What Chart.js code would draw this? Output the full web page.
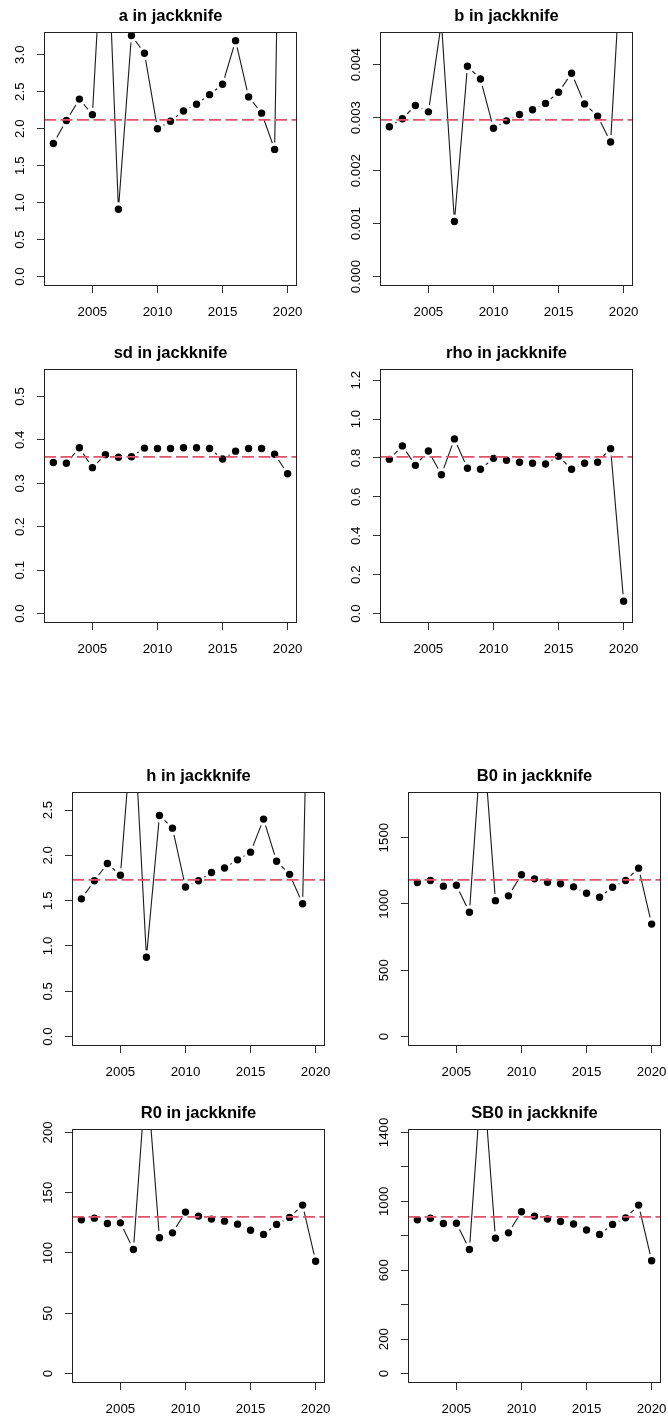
<!DOCTYPE html>
<html><head><meta charset="utf-8">
<script src="https://cdn.jsdelivr.net/npm/chart.js@4.4.1/dist/chart.umd.min.js"></script>
<style>
html,body{margin:0;padding:0;background:#fff;}
body{width:668px;height:1418px;overflow:hidden;position:relative;}
canvas{position:absolute;}
</style>
</head><body>
<script>
// ---------- data ----------
const years = [2002,2003,2004,2005,2006,2007,2008,2009,2010,2011,2012,2013,2014,2015,2016,2017,2018,2019,2020];
const xTickValues = [2005, 2010, 2015, 2020];
const xTickLabels = ['2005', '2010', '2015', '2020'];

const aValues = [1.80, 2.11, 2.40, 2.19, 5.35, 0.91, 3.26, 3.02, 2.00, 2.10, 2.24, 2.33, 2.46, 2.60, 3.19, 2.43, 2.21, 1.72, 12.0];
const aBase = 2.12;
const aTicks = [0, 0.5, 1.0, 1.5, 2.0, 2.5, 3.0];
const aTickLabels = ['0.0','0.5','1.0','1.5','2.0','2.5','3.0'];

const bValues = [0.00283, 0.00298, 0.00323, 0.00311, 0.0048, 0.00104, 0.00397, 0.00373, 0.00280, 0.00294, 0.00306, 0.00315, 0.00327, 0.00348, 0.00384, 0.00326, 0.00303, 0.00254, 0.0068];
const bBase = 0.00296;
const bTicks = [0, 0.001, 0.002, 0.003, 0.004];
const bTickLabels = ['0.000','0.001','0.002','0.003','0.004'];

const sdValues = [0.348, 0.346, 0.382, 0.336, 0.366, 0.360, 0.361, 0.381, 0.380, 0.380, 0.382, 0.382, 0.380, 0.356, 0.374, 0.380, 0.380, 0.367, 0.322];
const sdBase = 0.361;
const sdTicks = [0, 0.1, 0.2, 0.3, 0.4, 0.5];
const sdTickLabels = ['0.0','0.1','0.2','0.3','0.4','0.5'];

const rhoValues = [0.793, 0.862, 0.762, 0.836, 0.714, 0.898, 0.747, 0.742, 0.798, 0.788, 0.778, 0.773, 0.769, 0.809, 0.742, 0.773, 0.778, 0.848, 0.064];
const rhoBase = 0.806;
const rhoTicks = [0, 0.2, 0.4, 0.6, 0.8, 1.0, 1.2];
const rhoTickLabels = ['0.0','0.2','0.4','0.6','0.8','1.0','1.2'];

const hValues = [1.52, 1.72, 1.91, 1.78, 3.6, 0.875, 2.44, 2.30, 1.65, 1.72, 1.81, 1.86, 1.95, 2.035, 2.40, 1.935, 1.79, 1.466, 8.0];
const hBase = 1.73;
const hTicks = [0, 0.5, 1.0, 1.5, 2.0, 2.5];
const hTickLabels = ['0.0','0.5','1.0','1.5','2.0','2.5'];

const B0Values = [1162, 1177, 1134, 1141, 937, 2340, 1025, 1061, 1220, 1189, 1164, 1152, 1129, 1081, 1051, 1126, 1177, 1270, 848];
const B0Base = 1182;
const B0Ticks = [0, 500, 1000, 1500];
const B0TickLabels = ['0','500','1000','1500'];

const R0Values = [127.5, 128.9, 124.5, 125.0, 102.9, 252, 112.6, 116.7, 133.9, 130.6, 128.1, 126.4, 123.9, 118.9, 115.4, 123.7, 129.5, 139.7, 93.2];
const R0Base = 130.0;
const R0Ticks = [0, 50, 100, 150, 200];
const R0TickLabels = ['0','50','100','150','200'];

const SB0Values = [893, 902, 871, 873, 720, 1790, 786, 817, 939, 914, 897, 883, 868, 833, 808, 866, 904, 978, 655];
const SB0Base = 910;
const SB0Ticks = [0, 200, 400, 600, 800, 1000, 1200, 1400];
const SB0TickLabels = ['0','200','','600','','1000','','1400'];

// ---------- layout ----------
const panels = [
  {title:'a in jackknife',   values:aValues,   base:aBase,   ticks:aTicks,   labels:aTickLabels,   boxLeft:44,  boxTop:32},
  {title:'b in jackknife',   values:bValues,   base:bBase,   ticks:bTicks,   labels:bTickLabels,   boxLeft:380, boxTop:32},
  {title:'sd in jackknife',  values:sdValues,  base:sdBase,  ticks:sdTicks,  labels:sdTickLabels,  boxLeft:44,  boxTop:369},
  {title:'rho in jackknife', values:rhoValues, base:rhoBase, ticks:rhoTicks, labels:rhoTickLabels, boxLeft:380, boxTop:369},
  {title:'h in jackknife',   values:hValues,   base:hBase,   ticks:hTicks,   labels:hTickLabels,   boxLeft:72,  boxTop:792},
  {title:'B0 in jackknife',  values:B0Values,  base:B0Base,  ticks:B0Ticks,  labels:B0TickLabels,  boxLeft:408, boxTop:792},
  {title:'R0 in jackknife',  values:R0Values,  base:R0Base,  ticks:R0Ticks,  labels:R0TickLabels,  boxLeft:72,  boxTop:1129},
  {title:'SB0 in jackknife', values:SB0Values, base:SB0Base, ticks:SB0Ticks, labels:SB0TickLabels, boxLeft:408, boxTop:1129}
];

const FAMILY = "'Liberation Sans', Arial, Helvetica, sans-serif";
const TICK_SIZE = 13.3;
const TITLE_SIZE = 16.5;
const BOX_W = 253, BOX_H = 254, PAD_L = 44, PAD_T = 32, PAD_R = 22, PAD_B = 40;
const TICK_LEN = 7;
const Y_LABEL_CENTER = 24; // distance of rotated label centre from box

const measureCtx = document.createElement('canvas').getContext('2d');
measureCtx.font = TICK_SIZE + 'px ' + FAMILY;

const boxPlugin = {
  id: 'rbox',
  afterDatasetsDraw(chart) {
    const a = chart.chartArea, ctx = chart.ctx;
    ctx.save();
    ctx.strokeStyle = '#222';
    ctx.lineWidth = 1;
    ctx.strokeRect(Math.round(a.left) + 0.5, Math.round(a.top) + 0.5,
                   Math.round(a.right - a.left) - 1, Math.round(a.bottom - a.top) - 1);
    ctx.restore();
  }
};

function makePanel(p) {
  const c = document.createElement('canvas');
  c.width = PAD_L + BOX_W + PAD_R;
  c.height = PAD_T + BOX_H + PAD_B;
  c.style.width = c.width + 'px';
  c.style.height = c.height + 'px';
  c.style.left = (p.boxLeft - PAD_L) + 'px';
  c.style.top = (p.boxTop - PAD_T) + 'px';
  document.body.appendChild(c);

  const span = years[years.length - 1] - years[0];
  const xMin = years[0] - 0.04 * span;
  const xMax = years[years.length - 1] + 0.04 * span;
  const yTop = 1.5 * p.base;
  const yMin = -0.04 * yTop;
  const yMax = yTop * 1.04;

  let widest = 0;
  p.labels.forEach(l => { widest = Math.max(widest, measureCtx.measureText(l).width); });
  const yPad = Y_LABEL_CENTER - TICK_LEN - widest / 2;

  new Chart(c, {
    type: 'line',
    data: {
      datasets: [
        {
          data: [{x: xMin, y: p.base}, {x: xMax, y: p.base}],
          borderColor: '#DF536B',
          borderWidth: 1.8,
          borderDash: [12, 4.5],
          pointRadius: 0,
          order: 0
        },
        {
          data: years.map((yr, i) => ({x: yr, y: p.values[i]})),
          borderColor: '#1a1a1a',
          borderWidth: 1.1,
          tension: 0,
          pointRadius: 5.35,
          pointBorderWidth: 3.3,
          pointBackgroundColor: '#000',
          pointBorderColor: '#fff',
          pointHoverRadius: 5.35,
          clip: 0,
          order: 1
        }
      ]
    },
    options: {
      responsive: false,
      animation: false,
      devicePixelRatio: 1,
      events: [],
      layout: {padding: {left: 0, top: 0, right: PAD_R, bottom: 0}},
      plugins: {
        legend: {display: false},
        tooltip: {enabled: false},
        title: {
          display: true,
          text: p.title,
          fullSize: false,
          color: '#000',
          font: {family: FAMILY, size: TITLE_SIZE, weight: 'bold', lineHeight: 1},
          padding: {top: 8.25, bottom: PAD_T - 8.25 - TITLE_SIZE}
        }
      },
      scales: {
        x: {
          type: 'linear',
          min: xMin, max: xMax,
          grid: {drawOnChartArea: false, drawTicks: true, tickLength: TICK_LEN, color: '#333', tickColor: '#333', lineWidth: 1},
          border: {display: false},
          afterBuildTicks: s => { s.ticks = xTickValues.map(v => ({value: v})); },
          afterFit: s => { s.height = PAD_B; },
          ticks: {
            autoSkip: false, maxRotation: 0, minRotation: 0,
            padding: 11,
            color: '#000',
            font: {family: FAMILY, size: TICK_SIZE},
            callback: (v, i) => xTickLabels[i]
          }
        },
        y: {
          type: 'linear',
          min: yMin, max: yMax,
          grid: {drawOnChartArea: false, drawTicks: true, tickLength: TICK_LEN, color: '#333', tickColor: '#333', lineWidth: 1},
          border: {display: false},
          afterBuildTicks: s => { s.ticks = p.ticks.map(v => ({value: v})); },
          afterFit: s => { s.width = PAD_L; },
          ticks: {
            autoSkip: false, minRotation: 90, maxRotation: 90,
            crossAlign: 'center',
            padding: yPad,
            color: '#000',
            font: {family: FAMILY, size: TICK_SIZE},
            callback: (v, i) => p.labels[i]
          }
        }
      }
    },
    plugins: [boxPlugin]
  });
}

panels.forEach(makePanel);
</script>
</body></html>
